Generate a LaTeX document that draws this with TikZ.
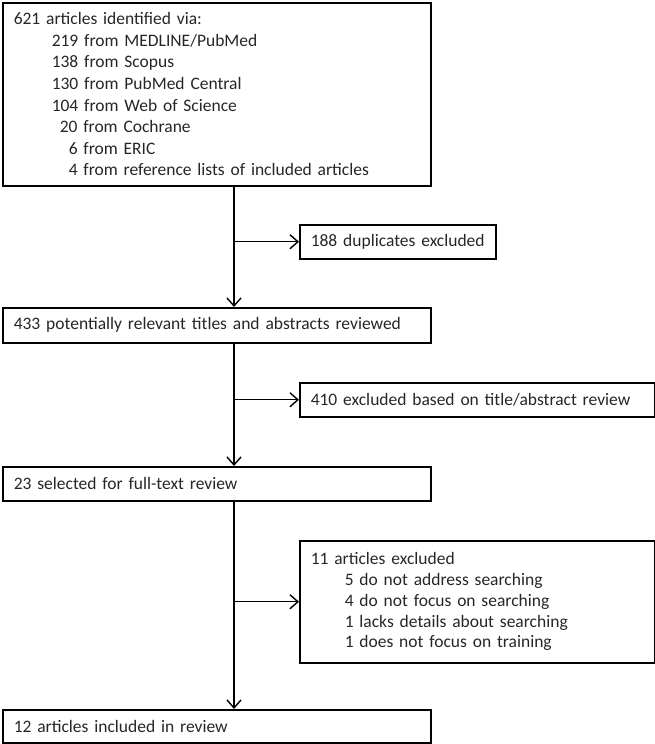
\documentclass[tikz,border=0pt]{standalone}
\usepackage{fontspec}
\setmainfont{Carlito}
\usetikzlibrary{arrows.meta}
\begin{document}
\begin{tikzpicture}[x=1pt,y=-1pt,
  box/.style={draw=black, line width=1.5pt, anchor=north west, inner xsep=11pt, inner ysep=0pt,
    align=left, font=\fontsize{17.5}{21.6}\selectfont, text=black!85},
  arr/.style={draw=black, line width=1.4pt, -{Straight Barb[length=8pt,width=14pt,line width=1.4pt]}}]
\useasboundingbox (0,0) rectangle (655,744);
\node[box, minimum width=428pt, minimum height=183pt, text width=406pt] (ident) at (2,2)
 {621 articles identified via:\\
  \hspace*{38pt}219 from MEDLINE/PubMed\\
  \hspace*{38pt}138 from Scopus\\
  \hspace*{38pt}130 from PubMed Central\\
  \hspace*{38pt}104 from Web of Science\\
  \hspace*{46pt}20 from Cochrane\\
  \hspace*{55pt}6 from ERIC\\
  \hspace*{55pt}4 from reference lists of included articles};
\node[box, minimum width=196pt, minimum height=34pt, text width=174pt] (dup) at (299,224) {\mbox{188 duplicates excluded}};
\node[box, minimum width=428pt, minimum height=35pt, text width=406pt] (screen) at (2,307) {433 potentially relevant titles and abstracts reviewed};
\node[box, minimum width=355pt, minimum height=34pt, text width=333pt] (exta) at (299,382) {\mbox{410 excluded based on title/abstract review}};
\node[box, minimum width=428pt, minimum height=34pt, text width=406pt] (full) at (2,466) {23 selected for full-text review};
\node[box, minimum width=355pt, minimum height=122pt, text width=333pt, font=\fontsize{17.5}{20.8}\selectfont] (extb) at (299,540)
 {11 articles excluded\\
  \hspace*{34pt}5 do not address searching\\
  \hspace*{34pt}4 do not focus on searching\\
  \hspace*{34pt}1 lacks details about searching\\
  \hspace*{34pt}1 does not focus on training};
\node[box, minimum width=428pt, minimum height=33pt, text width=406pt] (incl) at (2,709) {12 articles included in review};
\coordinate (spine) at (234,0);
\draw[arr] (spine |- ident.south) -- (spine |- screen.north);
\draw[arr] (spine |- dup.west) -- (dup.west);
\draw[arr] (spine |- screen.south) -- (spine |- full.north);
\draw[arr] (spine |- exta.west) -- (exta.west);
\draw[arr] (spine |- full.south) -- (spine |- incl.north);
\draw[arr] (spine |- extb.west) -- (extb.west);
\end{tikzpicture}
\end{document}
